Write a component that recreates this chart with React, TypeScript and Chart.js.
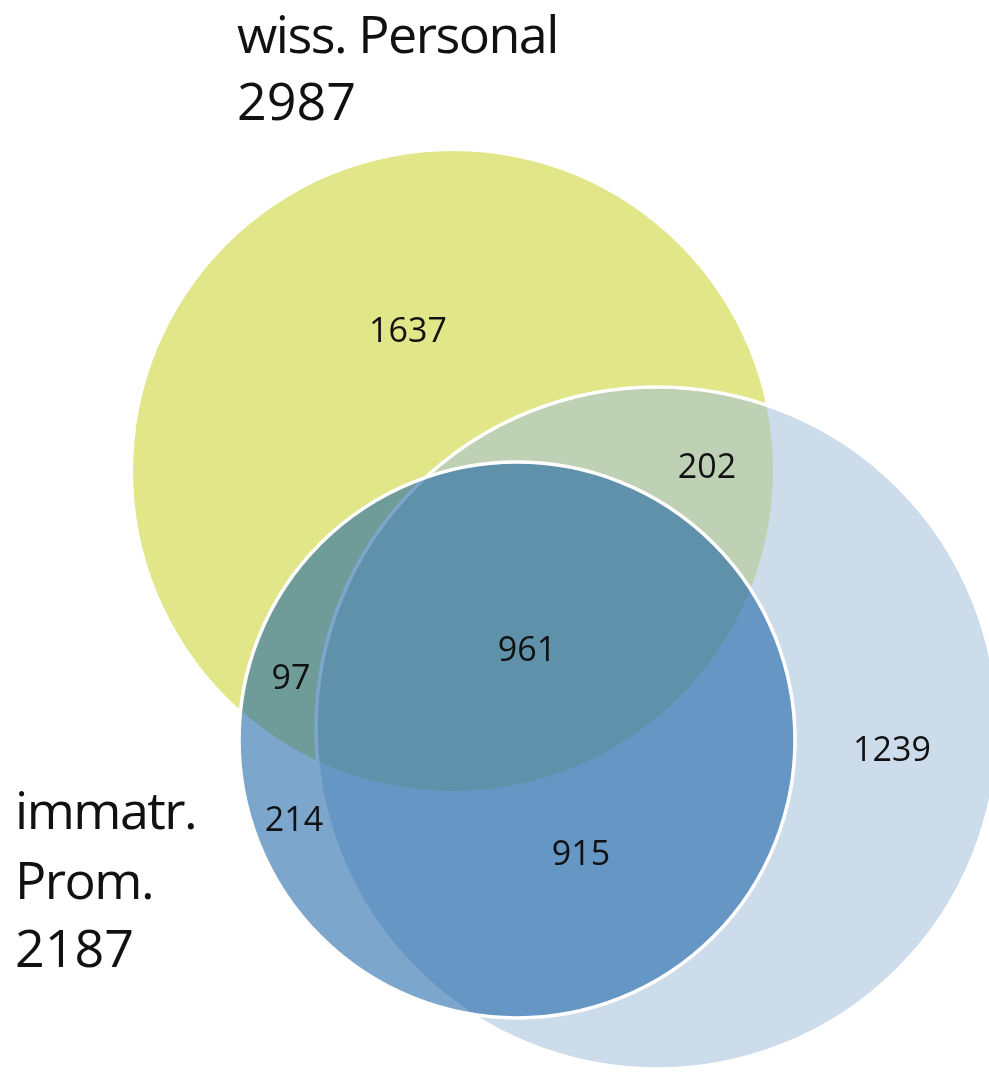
import React, { useEffect, useRef } from "react";
import { Chart, registerables } from "chart.js";

Chart.register(...registerables);

// ---- data ----
const setNames = ["wiss. Personal", "immatr. Prom.", ""];
const setTotals = [2987, 2187, null];
const regionCounts = [1637, 202, 961, 97, 1239, 214, 915];

// ---- layout (canvas units) ----
const W = 989;
const H = 1073;
// circles: yellow (wiss. Personal), light blue (third set), dark blue (immatr. Prom.)
const circleCx = [453, 657, 517];
const circleCy = [471, 728, 740];
const circleR = [320, 341, 278];
const circleFill = [
  "rgb(225,230,137)",
  "rgba(162,190,216,0.54)",
  "rgba(19,93,164,0.55)",
];
const circleBorderW = [0, 3.5, 3.5];
const circleOrder = [3, 2, 1];

const regionX = [408, 707, 527, 291, 892, 294, 581];
const regionY = [342, 478, 661, 689, 761, 831, 865];

const FONT = "'Open Sans', 'DejaVu Sans', sans-serif";

const textPlugin = {
  id: "vennText",
  afterDatasetsDraw(chart: any) {
    const ctx = chart.ctx;
    const xs = chart.scales.x;
    const ys = chart.scales.y;
    ctx.save();
    ctx.fillStyle = "#111111";
    ctx.textBaseline = "alphabetic";
    // region counts
    ctx.font = `34px ${FONT}`;
    ctx.textAlign = "center";
    regionCounts.forEach((v, i) => {
      ctx.fillText(String(v), xs.getPixelForValue(regionX[i]), ys.getPixelForValue(regionY[i]));
    });
    // set labels
    ctx.font = `52px ${FONT}`;
    ctx.textAlign = "left";
    const drawLine = (t: string, x: number, y: number) => {
      const isWord = /[a-z]/i.test(t);
      (ctx as any).letterSpacing = isWord ? "-1.5px" : "0px";
      ctx.fillText(t, xs.getPixelForValue(x), ys.getPixelForValue(y));
    };
    const topLines = [setNames[0], String(setTotals[0])];
    const topBase = [53, 120];
    topLines.forEach((t, i) => drawLine(t, 237, topBase[i]));
    const leftLines = [...setNames[1].split(" "), String(setTotals[1])];
    const leftBase = [829, 899, 967];
    leftLines.forEach((t, i) => drawLine(t, 15, leftBase[i]));
    (ctx as any).letterSpacing = "0px";
    ctx.restore();
  },
};

export default function App() {
  const ref = useRef<HTMLCanvasElement | null>(null);
  useEffect(() => {
    if (!ref.current) return;
    const pxRadius = (r: number) => (c: any) => {
      const s = c.chart.scales.x;
      return Math.abs(s.getPixelForValue(r) - s.getPixelForValue(0));
    };
    const chart = new Chart(ref.current, {
      type: "scatter",
      data: {
        datasets: circleCx.map((cx, i) => ({
          label: setNames[i] || "set 3",
          data: [{ x: cx, y: circleCy[i] }],
          backgroundColor: circleFill[i],
          borderColor: "#ffffff",
          borderWidth: circleBorderW[i],
          pointRadius: pxRadius(circleR[i]),
          pointHoverRadius: pxRadius(circleR[i]),
          pointBackgroundColor: circleFill[i],
          pointBorderColor: "#ffffff",
          pointBorderWidth: circleBorderW[i],
          pointHoverBorderWidth: circleBorderW[i],
          order: circleOrder[i],
          clip: false,
        })),
      },
      options: {
        animation: false,
        responsive: true,
        maintainAspectRatio: false,
        events: [],
        layout: { padding: 0 },
        plugins: { legend: { display: false }, tooltip: { enabled: false } },
        scales: {
          x: { type: "linear", min: 0, max: W, display: false },
          y: { type: "linear", min: 0, max: H, reverse: true, display: false },
        },
      },
      plugins: [textPlugin],
    });
    return () => chart.destroy();
  }, []);
  return (
    <div style={{ position: "absolute", left: 0, top: 0, width: W, height: H, background: "#fff" }}>
      <canvas ref={ref} />
    </div>
  );
}
